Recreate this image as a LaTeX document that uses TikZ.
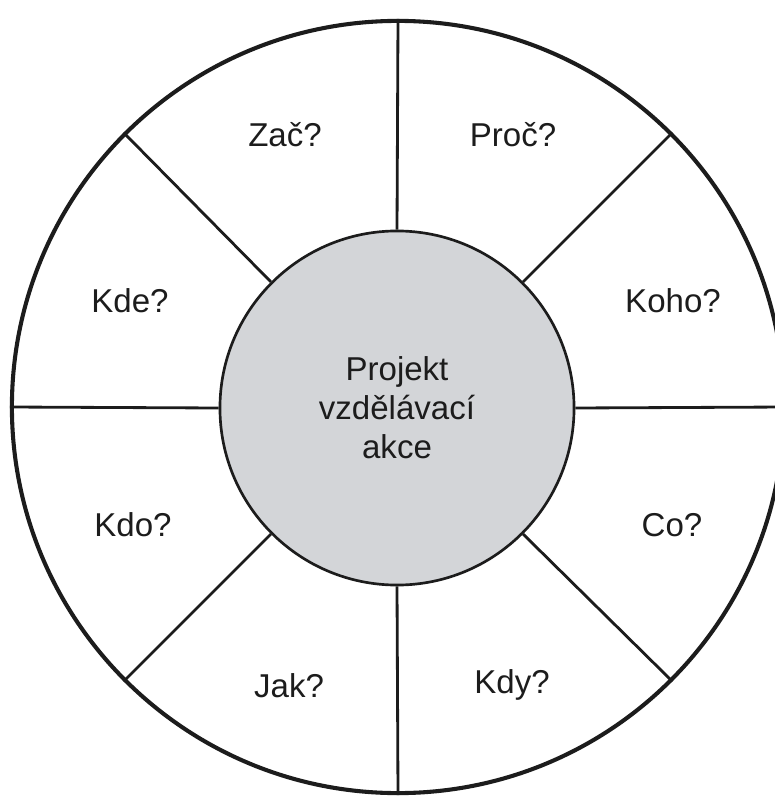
\documentclass[tikz,border=0pt]{standalone}
\usepackage{fontspec}
\setmainfont{Liberation Sans}
\usepackage{tikz}
\definecolor{hubgray}{RGB}{211,213,216}
\definecolor{ink}{RGB}{28,28,28}
\tikzset{
  question/.style={anchor=base,text=ink,font=\fontsize{23.5pt}{27.7pt}\selectfont},
  spoke/.style={line width=2pt,draw=ink}
}

\begin{document}
\begin{tikzpicture}[x=0.025cm,y=-0.025cm]
  \useasboundingbox (0,0) rectangle (774,800);
  % outer ring and hub
  \node[circle,draw=ink,line width=2.9pt,minimum size=19.3cm,inner sep=0pt] (rim) at (398,407) {};
  \node[circle,draw=ink,line width=1.9pt,fill=hubgray,minimum size=8.85cm,inner sep=0pt,
        align=center,text=ink,font=\fontsize{23.5pt}{27.7pt}\selectfont] (hub) at (397,408)
        {Projekt\\vzdělávací\\akce};
  \foreach \a in {0,45,...,315}
    \draw[spoke] (hub.\a) -- (rim.\a);
  % the eight questions
  \node[question] (zac)  at (285,147) {Zač?};
  \node[question] (proc) at (513,147) {Proč?};
  \node[question] (kde)  at (130,312) {Kde?};
  \node[question] (koho) at (673,312) {Koho?};
  \node[question] (kdo)  at (133,536) {Kdo?};
  \node[question] (co)   at (672,536) {Co?};
  \node[question] (jak)  at (289,697) {Jak?};
  \node[question] (kdy)  at (512,693) {Kdy?};
\end{tikzpicture}
\end{document}
